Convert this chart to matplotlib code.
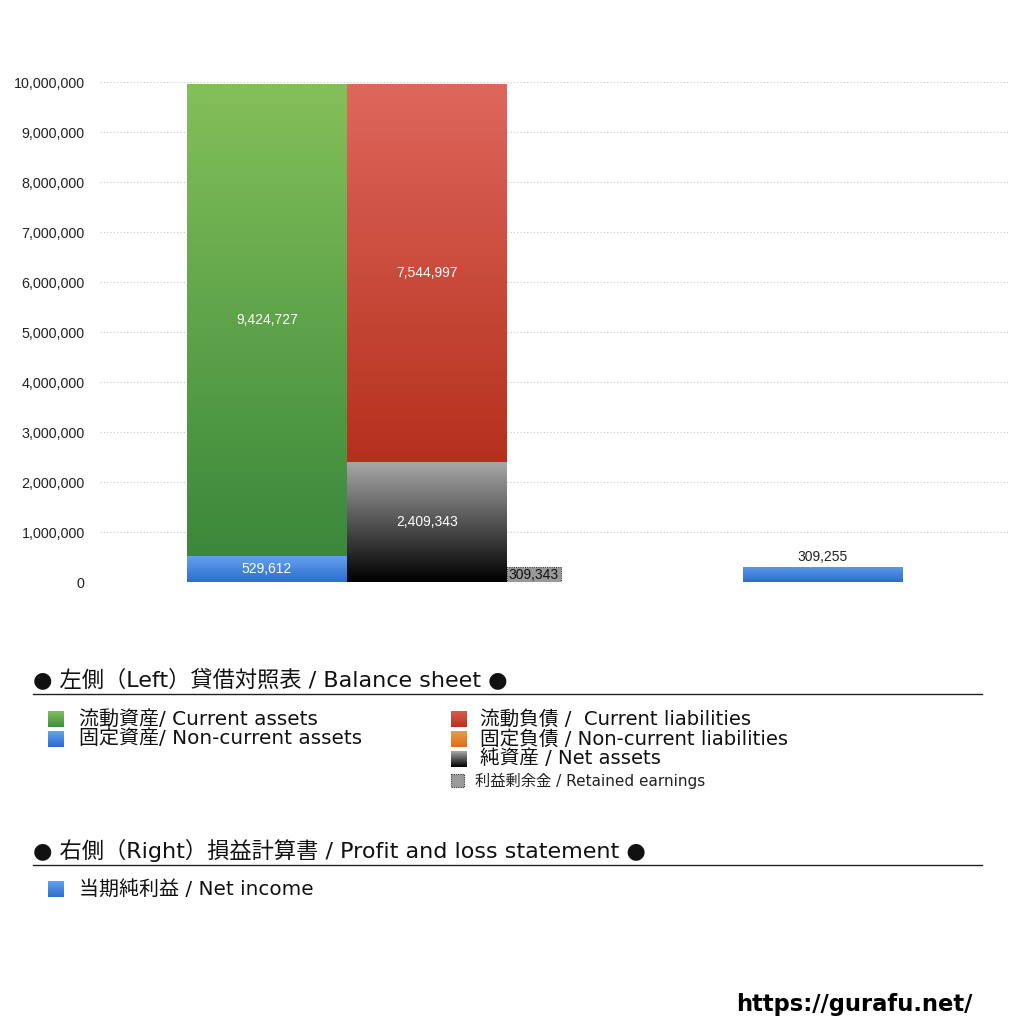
import matplotlib
matplotlib.use("Agg")
import matplotlib.pyplot as plt
import numpy as np
from matplotlib.colors import LinearSegmentedColormap
from matplotlib.patches import Rectangle

plt.rcParams['font.family'] = ['DejaVu Sans', 'Noto Sans CJK JP']

# ---- data ----
current_assets = 9424727
noncurrent_assets = 529612
current_liabilities = 7544997
noncurrent_liabilities = 0
net_assets = 2409343
retained_earnings = 309343
net_income = 309255

yticks = list(range(0, 10000001, 1000000))

fig = plt.figure(figsize=(10.24, 10.24), dpi=100)
W = H = 1024.0
ax = fig.add_axes([100 / W, (1024 - 582) / H, 908 / W, 500 / H])
ax.set_ylim(0, 10000000)
ax.set_xlim(-0.519, 1.389)
for s in ax.spines.values():
    s.set_visible(False)
ax.set_xticks([])
ax.set_yticks(yticks)
ax.set_yticklabels([f"{v:,}" for v in yticks], fontsize=10.3, color='#222222',
                   family=['Liberation Sans'])
ax.tick_params(axis='y', length=0, pad=11)
ax.yaxis.grid(True, linestyle=(0, (1, 2)), color='#c8c8c8', linewidth=0.8)
ax.set_axisbelow(True)

bw = 0.336
rw = 0.1135


def grad_bar(x, bottom, height, width, top_col, bot_col, align='center'):
    bars = ax.bar([x], [height], width=width, bottom=bottom, align=align,
                  color='none', edgecolor='none', zorder=2)
    p = bars[0]
    x0, y0 = p.get_x(), p.get_y()
    w, h = p.get_width(), p.get_height()
    if h <= 0:
        return p
    cmap = LinearSegmentedColormap.from_list('g', [bot_col, top_col])
    grad = np.linspace(0, 1, 256).reshape(-1, 1)
    im = ax.imshow(grad, extent=(x0, x0 + w, y0, y0 + h), origin='lower',
                   cmap=cmap, aspect='auto', zorder=2, interpolation='bilinear')
    im.set_clip_path(p)
    return p


# left group: assets
grad_bar(-bw / 2, 0, noncurrent_assets, bw, '#64a4f0', '#2e6ccc')
grad_bar(-bw / 2, noncurrent_assets, current_assets, bw, '#84c05a', '#3a883a')
# right side of left group: liabilities / net assets
grad_bar(bw / 2, 0, net_assets, bw, '#a8a8a8', '#000000')
grad_bar(bw / 2, net_assets + noncurrent_liabilities, current_liabilities, bw, '#de675c', '#b5301c')
# retained earnings
ax.bar([bw], [retained_earnings], width=rw, align='edge', color='#9a9a9a',
       edgecolor='#333333', linestyle=(0, (1, 1)), linewidth=0.8, zorder=3)
# right group: net income
grad_bar(1.0, 0, net_income, bw, '#5b9bea', '#2e6ccc')
ax.set_xlim(-0.519, 1.389)
ax.set_ylim(0, 10000000)

lbl = dict(fontsize=10, color='white', ha='center', va='center', zorder=5,
           family=['Liberation Sans'])
ax.text(-bw / 2, noncurrent_assets + current_assets / 2, f"{current_assets:,}", **lbl)
ax.text(-bw / 2, noncurrent_assets / 2, f"{noncurrent_assets:,}", **lbl)
ax.text(bw / 2, net_assets + current_liabilities / 2, f"{current_liabilities:,}", **lbl)
ax.text(bw / 2, net_assets / 2, f"{net_assets:,}", **lbl)
ax.text(bw + rw / 2, retained_earnings / 2 - 20000, f"{retained_earnings:,}", fontsize=10,
        color='#111111', ha='center', va='center', zorder=5, family=['Liberation Sans'])
ax.text(1.0, net_income + 60000, f"{net_income:,}", fontsize=10, color='#222222',
        ha='center', va='bottom', zorder=5, family=['Liberation Sans'])

# ---- legend area (overlay in pixel coords) ----
ov = fig.add_axes([0, 0, 1, 1], zorder=-1)
ov.set_xlim(0, 1024)
ov.set_ylim(1024, 0)
ov.axis('off')


def grad_square(x, y, top_col, bot_col, size=16):
    cmap = LinearSegmentedColormap.from_list('g', [top_col, bot_col])
    grad = np.linspace(0, 1, 64).reshape(-1, 1)
    ov.imshow(grad, extent=(x, x + size, y + size, y), cmap=cmap, aspect='auto',
              origin='upper', interpolation='bilinear')


ov.text(33, 679, "● 左側（Left）貸借対照表 / Balance sheet ●", fontsize=16,
        va='center', ha='left', color='#111111')
ov.plot([33, 982], [694, 694], color='#222222', lw=1)

items_left = [("流動資産/ Current assets", '#80c05a', '#3e8e3e', 719),
              ("固定資産/ Non-current assets", '#62a2ee', '#2e6ccc', 739)]
for t, c1, c2, y in items_left:
    grad_square(48, y - 8, c1, c2)
    ov.text(79, y, t, fontsize=14.4, va='center', ha='left', color='#111111')

items_right = [("流動負債 /  Current liabilities", '#dc5a4c', '#b8321e', 719),
               ("固定負債 / Non-current liabilities", '#f09a40', '#d86e20', 739),
               ("純資産 / Net assets", '#a8a8a8', '#000000', 759)]
for t, c1, c2, y in items_right:
    grad_square(451, y - 8, c1, c2)
    ov.text(480, y, t, fontsize=14.1, va='center', ha='left', color='#111111')

ov.add_patch(Rectangle((451, 774), 13, 13, facecolor='#9a9a9a', edgecolor='#333333',
                       linestyle=(0, (1, 1)), linewidth=0.8))
ov.text(475, 781, "利益剰余金 / Retained earnings", fontsize=11, va='center',
        ha='left', color='#222222')

ov.text(33, 850, "● 右側（Right）損益計算書 / Profit and loss statement ●", fontsize=16,
        va='center', ha='left', color='#111111')
ov.plot([33, 982], [865, 865], color='#222222', lw=1)
grad_square(48, 881, '#62a2ee', '#2e6ccc')
ov.text(79, 889, "当期純利益 / Net income", fontsize=14.4, va='center', ha='left',
        color='#111111')

ov.text(972, 1004, "https://gurafu.net/", fontsize=16.3, fontweight='bold', va='center',
        ha='right', color='#000000', family=['DejaVu Sans'])

fig.savefig("out.png", dpi=100, facecolor='white')
